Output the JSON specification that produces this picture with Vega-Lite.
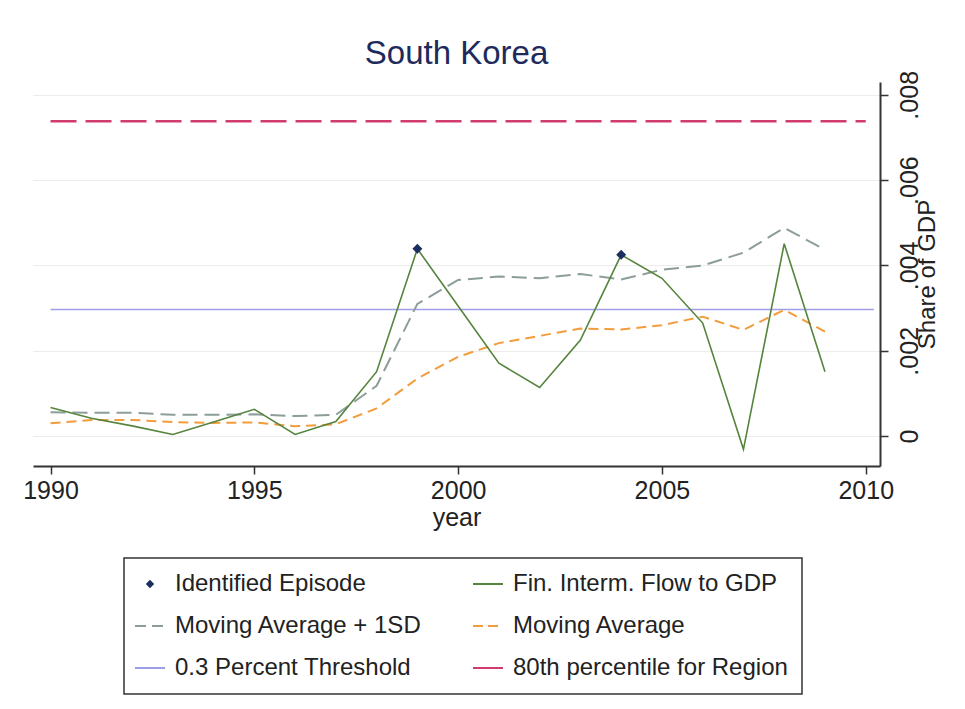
{
  "$schema": "https://vega.github.io/schema/vega-lite/v6.json",
  "autosize": {"type": "none"},
  "width": 847,
  "height": 384,
  "padding": {"left": 33, "top": 82, "right": 85, "bottom": 243},
  "background": "white",
  "title": {"text": "South Korea", "fontSize": 33, "font": "Liberation Sans", "fontWeight": "normal", "color": "#1e2a5c", "anchor": "middle", "frame": "group", "offset": -1},
  "config": {"view": {"stroke": null}, "font": "Liberation Sans"},
  "datasets": {
    "region80": [
      {"year": 1990, "value": 0.00738, "series": "80th percentile for Region"},
      {"year": 2010, "value": 0.00738, "series": "80th percentile for Region"}
    ],
    "threshold": [
      {"year": 1990, "value": 0.00297, "series": "0.3 Percent Threshold"},
      {"year": 2010.2, "value": 0.00297, "series": "0.3 Percent Threshold"}
    ],
    "masd": [
      {"year": 1990, "value": 0.00056, "series": "Moving Average + 1SD"},
      {"year": 1991, "value": 0.00055, "series": "Moving Average + 1SD"},
      {"year": 1992, "value": 0.00055, "series": "Moving Average + 1SD"},
      {"year": 1993, "value": 0.0005, "series": "Moving Average + 1SD"},
      {"year": 1994, "value": 0.0005, "series": "Moving Average + 1SD"},
      {"year": 1995, "value": 0.00051, "series": "Moving Average + 1SD"},
      {"year": 1996, "value": 0.00047, "series": "Moving Average + 1SD"},
      {"year": 1997, "value": 0.0005, "series": "Moving Average + 1SD"},
      {"year": 1998, "value": 0.00118, "series": "Moving Average + 1SD"},
      {"year": 1999, "value": 0.0031, "series": "Moving Average + 1SD"},
      {"year": 2000, "value": 0.00366, "series": "Moving Average + 1SD"},
      {"year": 2001, "value": 0.00374, "series": "Moving Average + 1SD"},
      {"year": 2002, "value": 0.0037, "series": "Moving Average + 1SD"},
      {"year": 2003, "value": 0.0038, "series": "Moving Average + 1SD"},
      {"year": 2004, "value": 0.00367, "series": "Moving Average + 1SD"},
      {"year": 2005, "value": 0.0039, "series": "Moving Average + 1SD"},
      {"year": 2006, "value": 0.004, "series": "Moving Average + 1SD"},
      {"year": 2007, "value": 0.0043, "series": "Moving Average + 1SD"},
      {"year": 2008, "value": 0.00488, "series": "Moving Average + 1SD"},
      {"year": 2009, "value": 0.00437, "series": "Moving Average + 1SD"}
    ],
    "ma": [
      {"year": 1990, "value": 0.0003, "series": "Moving Average"},
      {"year": 1991, "value": 0.00038, "series": "Moving Average"},
      {"year": 1992, "value": 0.00038, "series": "Moving Average"},
      {"year": 1993, "value": 0.00033, "series": "Moving Average"},
      {"year": 1994, "value": 0.00031, "series": "Moving Average"},
      {"year": 1995, "value": 0.00032, "series": "Moving Average"},
      {"year": 1996, "value": 0.00023, "series": "Moving Average"},
      {"year": 1997, "value": 0.00028, "series": "Moving Average"},
      {"year": 1998, "value": 0.00065, "series": "Moving Average"},
      {"year": 1999, "value": 0.00135, "series": "Moving Average"},
      {"year": 2000, "value": 0.00186, "series": "Moving Average"},
      {"year": 2001, "value": 0.00218, "series": "Moving Average"},
      {"year": 2002, "value": 0.00235, "series": "Moving Average"},
      {"year": 2003, "value": 0.00252, "series": "Moving Average"},
      {"year": 2004, "value": 0.0025, "series": "Moving Average"},
      {"year": 2005, "value": 0.0026, "series": "Moving Average"},
      {"year": 2006, "value": 0.0028, "series": "Moving Average"},
      {"year": 2007, "value": 0.00249, "series": "Moving Average"},
      {"year": 2008, "value": 0.00296, "series": "Moving Average"},
      {"year": 2009, "value": 0.00245, "series": "Moving Average"}
    ],
    "flow": [
      {"year": 1990, "value": 0.00067, "series": "Fin. Interm. Flow to GDP"},
      {"year": 1991, "value": 0.00042, "series": "Fin. Interm. Flow to GDP"},
      {"year": 1992, "value": 0.00024, "series": "Fin. Interm. Flow to GDP"},
      {"year": 1993, "value": 0.00004, "series": "Fin. Interm. Flow to GDP"},
      {"year": 1994, "value": 0.00033, "series": "Fin. Interm. Flow to GDP"},
      {"year": 1995, "value": 0.00063, "series": "Fin. Interm. Flow to GDP"},
      {"year": 1996, "value": 0.00004, "series": "Fin. Interm. Flow to GDP"},
      {"year": 1997, "value": 0.00034, "series": "Fin. Interm. Flow to GDP"},
      {"year": 1998, "value": 0.00151, "series": "Fin. Interm. Flow to GDP"},
      {"year": 1999, "value": 0.00439, "series": "Fin. Interm. Flow to GDP"},
      {"year": 2000, "value": 0.00305, "series": "Fin. Interm. Flow to GDP"},
      {"year": 2001, "value": 0.00171, "series": "Fin. Interm. Flow to GDP"},
      {"year": 2002, "value": 0.00114, "series": "Fin. Interm. Flow to GDP"},
      {"year": 2003, "value": 0.00225, "series": "Fin. Interm. Flow to GDP"},
      {"year": 2004, "value": 0.00425, "series": "Fin. Interm. Flow to GDP"},
      {"year": 2005, "value": 0.0037, "series": "Fin. Interm. Flow to GDP"},
      {"year": 2006, "value": 0.00265, "series": "Fin. Interm. Flow to GDP"},
      {"year": 2007, "value": -0.00031, "series": "Fin. Interm. Flow to GDP"},
      {"year": 2008, "value": 0.00451, "series": "Fin. Interm. Flow to GDP"},
      {"year": 2009, "value": 0.00151, "series": "Fin. Interm. Flow to GDP"}
    ],
    "episodes": [
      {"year": 1999, "value": 0.00439, "series": "Identified Episode"},
      {"year": 2004, "value": 0.00425, "series": "Identified Episode"}
    ]
  },
  "encoding": {
    "x": {
      "field": "year", "type": "quantitative",
      "scale": {"domain": [1989.57, 2010.35], "nice": false, "zero": false},
      "axis": {
        "values": [1990, 1995, 2000, 2005, 2010], "format": "d", "title": "year",
        "labelFont": "Liberation Sans", "titleFont": "Liberation Sans",
        "labelFontSize": 25, "titleFontSize": 25, "titleFontWeight": "normal",
        "labelColor": "#222222", "titleColor": "#222222",
        "tickSize": 8, "tickColor": "#333333", "tickWidth": 1.5,
        "domainColor": "#333333", "domainWidth": 2, "grid": false,
        "labelPadding": 4, "titlePadding": 2, "labelFlush": false, "labelOverlap": false
      }
    },
    "y": {
      "field": "value", "type": "quantitative",
      "scale": {"domain": [-0.0007, 0.0083], "nice": false, "zero": false},
      "axis": {
        "orient": "right", "values": [0, 0.002, 0.004, 0.006, 0.008],
        "labelExpr": "datum.value === 0 ? '0' : replace(format(datum.value, '.3f'), '0.', '.')",
        "labelAngle": 270, "labelAlign": "center", "labelBaseline": "top",
        "labelFont": "Liberation Sans", "labelFontSize": 25, "labelColor": "#222222", "labelPadding": 9,
        "tickSize": 8, "tickColor": "#333333", "tickWidth": 1.5,
        "domainColor": "#333333", "domainWidth": 2,
        "grid": true, "gridColor": "#ececec", "gridWidth": 1,
        "title": "Share of GDP", "titleFont": "Liberation Sans", "titleFontSize": 24, "titleFontWeight": "normal",
        "titleColor": "#222222", "titleAngle": 270, "titleBaseline": "top", "titlePadding": -7,
        "labelFlush": false, "labelOverlap": false
      }
    },
    "color": {
      "field": "series", "type": "nominal",
      "scale": {
        "domain": ["Identified Episode", "Moving Average + 1SD", "0.3 Percent Threshold", "Fin. Interm. Flow to GDP", "Moving Average", "80th percentile for Region"],
        "range": ["#1b2f5e", "#8c9d9a", "#9f9fe8", "#55843c", "#f39c3c", "#d23c6c"]
      },
      "legend": {
        "orient": "none", "legendX": 91, "legendY": 476, "columns": 2, "title": null,
        "labelFont": "Liberation Sans", "labelFontSize": 24, "labelColor": "#222222", "labelLimit": 400,
        "labelOffset": 13, "columnPadding": 46, "rowPadding": 18, "padding": 14,
        "strokeColor": "#333333", "symbolSize": 900, "symbolType": "stroke", "symbolStrokeWidth": 2,
        "encode": {
          "legend": {"update": {"strokeWidth": {"value": 1.5}}},
          "symbols": {"update": {
            "shape": {"signal": "datum.value === 'Identified Episode' ? 'diamond' : 'stroke'"},
            "size": {"signal": "datum.value === 'Identified Episode' ? 70 : 900"},
            "fill": {"signal": "datum.value === 'Identified Episode' ? '#1b2f5e' : 'transparent'"},
            "stroke": {"signal": "scale('color', datum.value)"},
            "strokeWidth": {"signal": "datum.value === 'Identified Episode' ? 0 : 2"},
            "strokeDash": {"signal": "datum.value === 'Moving Average + 1SD' ? [11, 6] : datum.value === 'Moving Average' ? [10, 5] : [1, 0]"},
            "opacity": {"value": 1}
          }}
        }
      }
    }
  },
  "layer": [
    {"data": {"name": "region80"}, "mark": {"type": "line", "strokeWidth": 2.5, "strokeDash": [26, 9]}},
    {"data": {"name": "threshold"}, "mark": {"type": "line", "strokeWidth": 1.5}},
    {"data": {"name": "masd"}, "mark": {"type": "line", "strokeWidth": 2, "strokeDash": [15, 7]}},
    {"data": {"name": "ma"}, "mark": {"type": "line", "strokeWidth": 2, "strokeDash": [10, 6]}},
    {"data": {"name": "flow"}, "mark": {"type": "line", "strokeWidth": 1.6}},
    {"data": {"name": "episodes"}, "mark": {"type": "point", "shape": "diamond", "filled": true, "size": 100, "opacity": 1}}
  ]
}
